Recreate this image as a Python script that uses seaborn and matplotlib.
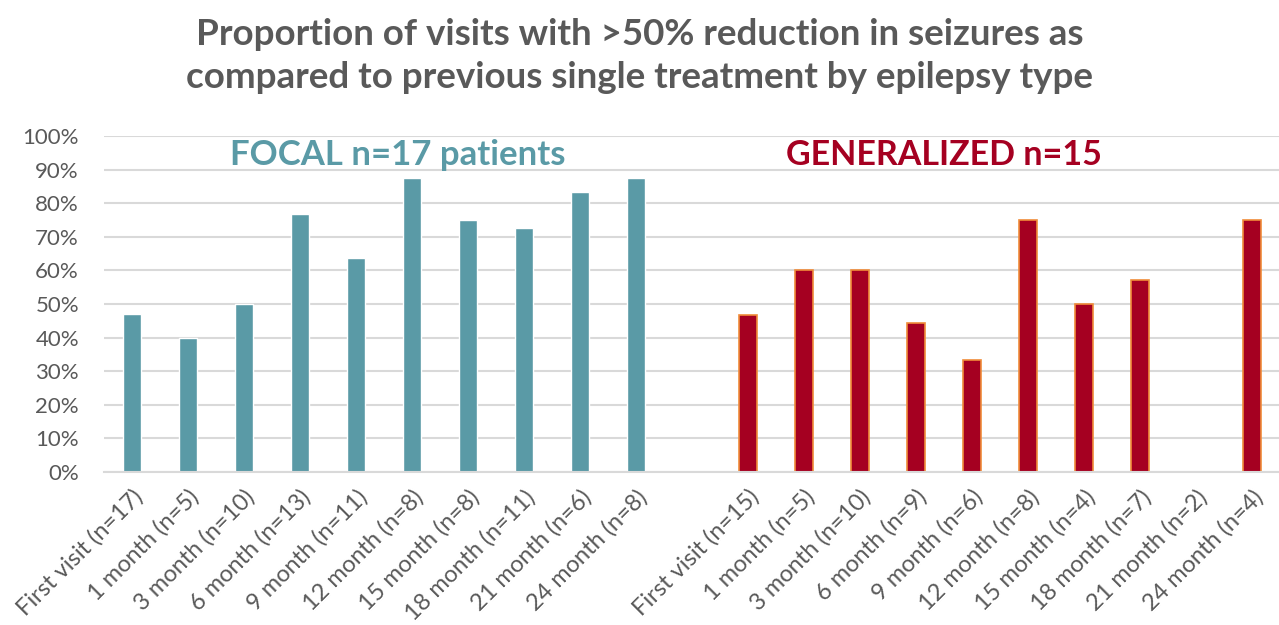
import numpy as np
import pandas as pd
import matplotlib
matplotlib.use("Agg")
import matplotlib.pyplot as plt
import seaborn as sns

focal_labels = ["First visit (n=17)", "1 month (n=5)", "3 month (n=10)", "6 month (n=13)",
                "9 month (n=11)", "12 month (n=8)", "15 month (n=8)", "18 month (n=11)",
                "21 month (n=6)", "24 month (n=8)"]
focal_values = [47.1, 40.0, 50.0, 76.9, 63.6, 87.5, 75.0, 72.7, 83.3, 87.5]

gen_labels = ["First visit (n=15)", "1 month (n=5)", "3 month (n=10)", "6 month (n=9)",
              "9 month (n=6)", "12 month (n=8)", "15 month (n=4)", "18 month (n=7)",
              "21 month (n=2)", "24 month (n=4)"]
gen_values = [46.7, 60.0, 60.0, 44.4, 33.3, 75.0, 50.0, 57.1, 0.0, 75.0]

teal = "#5A9AA6"
red = "#A50021"
orange = "#F08C3A"
grey_text = "#595959"
grid = "#D9D9D9"

focal_df = pd.DataFrame({"key": [f"F{i}" for i in range(len(focal_values))], "value": focal_values})
gen_df = pd.DataFrame({"key": [f"G{i}" for i in range(len(gen_values))], "value": gen_values})
order = list(focal_df["key"]) + ["gap"] + list(gen_df["key"])

sns.set_style("white")
plt.rcParams["font.family"] = ["Lato", "DejaVu Sans"]

fig = plt.figure(figsize=(12.79, 6.25), dpi=100)
ax = fig.add_axes([0.0813, 0.2448, 0.9195, 0.5376])

sns.barplot(data=focal_df, x="key", y="value", order=order, color=teal,
            width=0.31, saturation=1, ax=ax)
n_focal = len(ax.patches)
sns.barplot(data=gen_df, x="key", y="value", order=order, color=red,
            width=0.31, saturation=1, edgecolor=orange, linewidth=1.2, ax=ax)
for p in ax.patches[n_focal:]:
    if p.get_height() == 0:
        p.set_linewidth(0)

ax.set_ylim(0, 100)
ax.set_xlim(-0.5, len(order) - 0.5)
ax.set_yticks(np.arange(0, 101, 10))
ax.set_yticklabels([f"{v}%" for v in range(0, 101, 10)], color=grey_text, fontsize=16)
ax.yaxis.grid(True, color=grid, linewidth=1.5)
ax.set_axisbelow(True)
for s in ["left", "right", "top"]:
    ax.spines[s].set_visible(False)
ax.spines["bottom"].set_color(grid)
ax.spines["bottom"].set_linewidth(1.5)
ax.tick_params(axis="y", length=0, pad=18)

ax.set_xticks(range(len(order)))
ax.set_xticklabels(focal_labels + [""] + gen_labels, rotation=45, ha="right",
                   rotation_mode="anchor", color=grey_text, fontsize=17)
ax.tick_params(axis="x", length=0, pad=10)
ax.set_xlabel("")
ax.set_ylabel("")

ax.text(4.75, 99, "FOCAL n=17 patients", color=teal, fontsize=25, fontweight="bold",
        ha="center", va="top")
ax.text(14.5, 99, "GENERALIZED n=15", color=red, fontsize=24.5, fontweight="bold",
        ha="center", va="top")

fig.text(0.5, 0.91, "Proportion of visits with >50% reduction in seizures as\n"
         "compared to previous single treatment by epilepsy type",
         ha="center", va="center", color=grey_text, fontsize=26.5, fontweight="bold",
         linespacing=1.38)

fig.savefig("out.png", dpi=100)
